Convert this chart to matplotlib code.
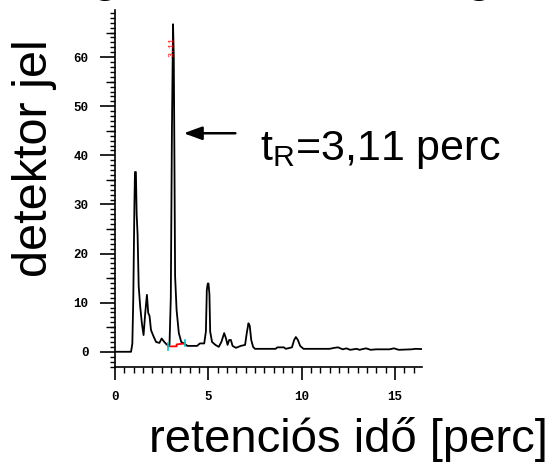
import matplotlib
matplotlib.use("Agg")
import matplotlib.pyplot as plt
from matplotlib.ticker import MultipleLocator

# chromatogram: retention time [min], detector signal
ido = [0.0, 0.86, 0.93, 0.98, 1.04, 1.07, 1.12, 1.16, 1.21, 1.27, 1.35, 1.44, 1.53,
       1.62, 1.71, 1.78, 1.85, 1.93, 2.07, 2.20, 2.38, 2.50, 2.64, 2.79, 2.92,
       2.99, 3.05, 3.11, 3.15, 3.18, 3.22, 3.30, 3.42, 3.55, 3.70, 3.88, 4.40,
       4.55, 4.78, 4.87, 4.92, 4.97, 5.01, 5.06, 5.10, 5.20, 5.38, 5.56, 5.70,
       5.85, 5.94, 6.03, 6.12, 6.21, 6.30, 6.48, 6.74, 6.97, 7.06, 7.15, 7.22,
       7.30, 7.40, 7.50, 8.60, 8.70, 9.05, 9.15, 9.48, 9.60, 9.69, 9.80, 9.92,
       10.10, 11.50, 11.75, 11.95, 12.20, 12.40, 12.60, 12.95, 13.10, 13.45,
       13.70, 14.00, 14.70, 14.95, 15.20, 15.90, 16.10, 16.45]
jel = [0.0, 0.0, 1.7, 11.0, 30.0, 36.6, 36.6, 28.0, 23.9, 13.3, 9.2, 5.8, 3.4,
       7.9, 11.6, 7.9, 7.3, 4.4, 3.1, 2.0, 1.8, 2.7, 2.0, 1.4, 1.4,
       11.0, 45.0, 66.7, 60.0, 42.0, 15.4, 8.5, 3.8, 2.0, 1.7, 1.2, 1.2,
       1.7, 1.7, 4.1, 12.6, 13.9, 13.9, 11.7, 4.1, 2.0, 1.4, 1.0, 2.0,
       3.8, 2.8, 1.4, 2.4, 2.4, 1.2, 0.8, 1.2, 1.4, 3.8, 5.8, 5.3,
       2.4, 1.0, 0.6, 0.6, 0.9, 0.9, 0.6, 0.9, 2.4, 3.0, 2.4, 1.2,
       0.6, 0.6, 0.8, 0.9, 0.5, 0.7, 0.4, 0.6, 0.4, 0.7,
       0.4, 0.5, 0.5, 0.7, 0.4, 0.5, 0.6, 0.55]

# integration baseline (red) under the main peak, and its start/end marks (cyan)
alapvonal_x = [2.85, 3.30, 3.30, 3.75]
alapvonal_y = [1.1, 1.1, 1.5, 1.7]
jelolo_x = [2.85, 3.75]
jelolo_y = [(0.3, 1.8), (1.2, 2.5)]

csucs_ido = 3.11
csucs_cimke = "3.11"

nagy = "Liberation Sans"

fig = plt.figure(figsize=(5.58, 4.73), dpi=100)
ax = fig.add_axes([115 / 558, 1 - 367 / 473, 307 / 558, 357 / 473])

ax.plot(ido, jel, color="black", lw=1.3)
ax.plot(alapvonal_x, alapvonal_y, color="red", lw=1.3)
for xx, (y0, y1) in zip(jelolo_x, jelolo_y):
    ax.plot([xx, xx], [y0, y1], color="#00c8d0", lw=1.2)

ax.text(csucs_ido - 0.04, 62, csucs_cimke, rotation=90, color="red",
        fontsize=6, ha="center", va="center", family="Liberation Mono")

ax.set_xlim(0, 16.45)
ax.set_ylim(-3.1, 69.6)

for s in ["top", "right"]:
    ax.spines[s].set_visible(False)
ax.spines["left"].set_linewidth(1.2)
ax.spines["bottom"].set_linewidth(1.2)

ax.xaxis.set_major_locator(MultipleLocator(5))
ax.xaxis.set_minor_locator(MultipleLocator(0.5))
ax.yaxis.set_major_locator(MultipleLocator(10))
ax.yaxis.set_minor_locator(MultipleLocator(1))
ax.tick_params(axis="y", which="major", direction="out", length=11, width=1.2, pad=8)
ax.tick_params(axis="y", which="minor", direction="out", length=3.5, width=1.0)
ax.tick_params(axis="x", which="major", direction="out", length=9.5, width=1.2, pad=8)
ax.tick_params(axis="x", which="minor", direction="out", length=4.5, width=1.0)
for lab in ax.get_xticklabels() + ax.get_yticklabels():
    lab.set_family("Liberation Mono")
    lab.set_fontweight("bold")
    lab.set_fontsize(9)

# medium ticks at every 5 on the y axis
sec = ax.secondary_yaxis("left")
sec.set_yticks([-5, 5, 15, 25, 35, 45, 55, 65])
sec.tick_params(length=6.5, width=1.0, labelleft=False)
sec.spines["left"].set_visible(False)

# arrow and retention time label
ax.annotate("", xy=(3.53, 44.5), xytext=(6.6, 44.5),
            arrowprops=dict(arrowstyle="-|>,head_length=1.1,head_width=0.4",
                            color="black", lw=1.8))
fig.text(260 / 558, 1 - 160 / 473, "t$_\\mathregular{R}$=3,11 perc",
         fontsize=31, family=nagy, ha="left", va="baseline")

fig.text(35 / 558, 1 - 158 / 473, "detektor jel", rotation=90, fontsize=35,
         family=nagy, ha="center", va="center")
fig.text(348 / 558, 1 - 452 / 473, "retenciós idő [perc]", fontsize=34,
         family=nagy, ha="center", va="baseline")

# descenders of the cut-off title above the frame
for gx in [106, 479]:
    fig.text(gx / 558, 1 + 9 / 473, "g", fontsize=35, family=nagy,
             ha="center", va="baseline")

fig.savefig("out.png", dpi=100)
